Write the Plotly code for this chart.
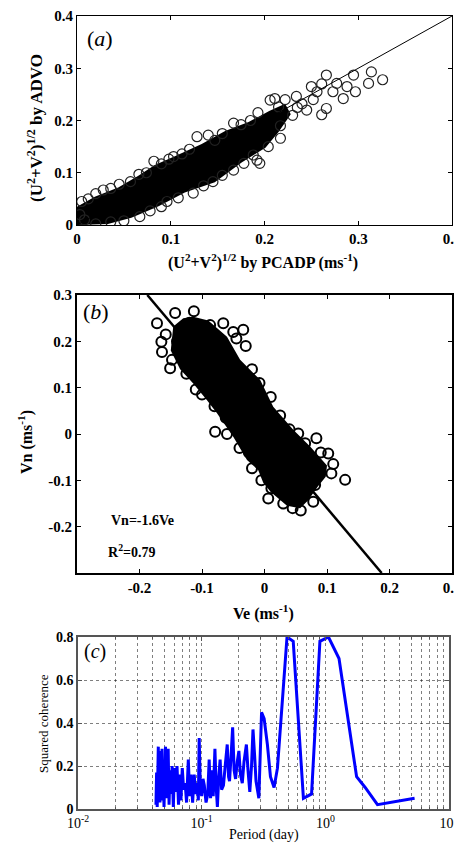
import plotly.graph_objects as go
from plotly.subplots import make_subplots

# ---- panel (a): speed ADVO vs PCADP ----
a_core_x = [0.0, 0.0, 0.019, 0.044, 0.065, 0.083, 0.105, 0.133, 0.158, 0.183, 0.205, 0.222,
            0.228, 0.215, 0.201, 0.176, 0.147, 0.115, 0.087, 0.058, 0.033]
a_core_y = [0.0, 0.035, 0.054, 0.072, 0.094, 0.115, 0.132, 0.155, 0.180, 0.197, 0.218, 0.232,
            0.212, 0.178, 0.148, 0.120, 0.082, 0.062, 0.036, 0.014, 0.002]
a_x = [0.005, 0.012, 0.020, 0.028, 0.036, 0.045, 0.057, 0.066, 0.074, 0.082, 0.090, 0.098,
       0.103, 0.112, 0.120, 0.128, 0.140, 0.147, 0.155, 0.167, 0.175, 0.185, 0.193, 0.206,
       0.211, 0.215, 0.222, 0.234, 0.240, 0.250, 0.256, 0.261, 0.266, 0.273, 0.277, 0.284,
       0.288, 0.295, 0.297, 0.311, 0.314, 0.326, 0.261, 0.266, 0.245, 0.235, 0.252, 0.230,
       0.020, 0.036, 0.050, 0.067, 0.078, 0.090, 0.096, 0.108, 0.124, 0.135, 0.145, 0.155,
       0.167, 0.178, 0.188, 0.195, 0.204, 0.217, 0.192, 0.217, 0.008, 0.003]
a_y = [0.045, 0.050, 0.060, 0.067, 0.070, 0.078, 0.083, 0.097, 0.100, 0.122, 0.117, 0.126,
       0.131, 0.136, 0.145, 0.169, 0.172, 0.162, 0.175, 0.195, 0.192, 0.200, 0.215, 0.239,
       0.242, 0.226, 0.240, 0.246, 0.232, 0.265, 0.255, 0.270, 0.287, 0.255, 0.271, 0.242,
       0.265, 0.287, 0.255, 0.271, 0.293, 0.278, 0.211, 0.223, 0.220, 0.225, 0.240, 0.210,
       0.002, 0.006, 0.008, 0.016, 0.027, 0.035, 0.045, 0.052, 0.061, 0.075, 0.083, 0.095,
       0.105, 0.118, 0.134, 0.118, 0.150, 0.166, 0.124, 0.190, 0.010, 0.020]
one_to_one = [0.0, 0.4]

# ---- panel (b): Vn vs Ve ----
b_core_x = [-0.146, -0.130, -0.114, -0.090, -0.060, -0.039, -0.007, 0.014, 0.046, 0.073, 0.100,
            0.098, 0.085, 0.070, 0.057, 0.036, 0.010, -0.002, -0.010, -0.028, -0.050, -0.076,
            -0.092, -0.114, -0.135, -0.150]
b_core_y = [0.232, 0.250, 0.253, 0.245, 0.210, 0.160, 0.117, 0.059, 0.009, -0.027, -0.068,
            -0.092, -0.114, -0.143, -0.160, -0.155, -0.125, -0.105, -0.078, -0.056, -0.006, 0.045,
            0.073, 0.109, 0.140, 0.180]
b_x = [-0.172, -0.165, -0.164, -0.158, -0.151, -0.148, -0.143, -0.136, -0.140, -0.113, -0.120,
       -0.125, -0.110, -0.100, -0.087, -0.080, -0.079, -0.066, -0.060, -0.062, -0.045, -0.050,
       -0.034, -0.030, -0.020, -0.020, -0.008, -0.025, 0.006, 0.011, 0.010, 0.025, 0.030, 0.040,
       0.054, 0.058, 0.065, 0.078, 0.081, 0.083, 0.090, 0.102, 0.107, 0.110, 0.129, 0.045,
       -0.005, -0.040]
b_y = [0.239, 0.199, 0.177, 0.215, 0.142, 0.160, 0.261, 0.184, 0.200, 0.265, 0.240,
       0.130, 0.096, 0.085, 0.235, 0.060, 0.005, 0.239, 0.000, 0.035, 0.206, 0.220,
       0.225, 0.190, 0.140, -0.074, 0.110, -0.040, -0.139, -0.117, 0.080, 0.040, -0.150, 0.010,
       0.001, -0.165, -0.020, -0.146, -0.110, -0.009, -0.040, -0.042, -0.085, -0.065, -0.099, -0.160,
       -0.100, -0.030]
slope = -1.6
fit_x = [-0.1875, 0.1875]

# ---- panel (c): squared coherence vs period (day) ----
period = [0.0427, 0.0432, 0.0437, 0.0442, 0.0446, 0.0451, 0.0456, 0.0460, 0.0466, 0.0472,
          0.0478, 0.0484, 0.0490, 0.0496, 0.0502, 0.0510, 0.0518, 0.0527, 0.0536, 0.0545,
          0.0555, 0.0565, 0.0577, 0.0590, 0.0603, 0.0617, 0.0632, 0.0650, 0.0665, 0.0680,
          0.0697, 0.0715, 0.0735, 0.0755, 0.0780, 0.0800, 0.0820, 0.0845, 0.0870, 0.0895,
          0.0920, 0.0940, 0.0955, 0.0975, 0.1000, 0.1025, 0.1050, 0.1085, 0.1120, 0.1150,
          0.1180, 0.1210, 0.1240, 0.1280, 0.1310, 0.1340, 0.1375, 0.1410, 0.1450, 0.1500,
          0.1550, 0.1610, 0.1650, 0.1680, 0.1730, 0.1780, 0.1830, 0.1880, 0.1940, 0.2000,
          0.2060, 0.2130, 0.2200, 0.2300, 0.2370, 0.2450, 0.2530, 0.2600, 0.2680, 0.2750,
          0.2900, 0.3050, 0.3200, 0.3400, 0.3600, 0.3850, 0.4100, 0.4900, 0.5500, 0.6650,
          0.7740, 0.9040, 1.06, 1.29, 1.79, 2.10, 2.64, 5.27]
coherence = [0.02, 0.17, 0.01, 0.25, 0.29, 0.08, 0.27, 0.03, 0.20, 0.06,
             0.28, 0.04, 0.15, 0.01, 0.22, 0.29, 0.05, 0.12, 0.28, 0.02,
             0.18, 0.07, 0.20, 0.01, 0.19, 0.08, 0.20, 0.02, 0.16, 0.04,
             0.19, 0.09, 0.12, 0.03, 0.23, 0.06, 0.16, 0.03, 0.16, 0.07,
             0.12, 0.04, 0.33, 0.10, 0.06, 0.14, 0.11, 0.03, 0.07, 0.23,
             0.05, 0.18, 0.06, 0.28, 0.10, 0.01, 0.15, 0.23, 0.09, 0.11,
             0.20, 0.30, 0.15, 0.13, 0.25, 0.38, 0.18, 0.14, 0.22, 0.27,
             0.16, 0.12, 0.22, 0.30, 0.18, 0.08, 0.20, 0.37, 0.25, 0.13,
             0.05, 0.45, 0.42, 0.30, 0.15, 0.10, 0.19, 0.80, 0.78, 0.05,
             0.07, 0.78, 0.80, 0.70, 0.15, 0.10, 0.02, 0.05]

serif = "Liberation Serif"
OFF = 8            # browser body margin around the plot div
W, H = 454, 836    # div fits the page exactly, no scrollbars


def fx(px):
    return (px - OFF) / W


def fy(py):
    return 1 - (py - OFF) / H


fig = make_subplots(rows=3, cols=1)

fig.add_trace(go.Scatter(x=a_core_x, y=a_core_y, fill="toself", fillcolor="black",
                         mode="lines", line=dict(width=0, color="black")), row=1, col=1)
fig.add_trace(go.Scatter(x=a_x, y=a_y, mode="markers",
                         marker=dict(symbol="circle-open", size=10, color="#222",
                                     line=dict(width=1.2, color="#222"))), row=1, col=1)
fig.add_trace(go.Scatter(x=one_to_one, y=one_to_one, mode="lines",
                         line=dict(color="black", width=1)), row=1, col=1)

fig.add_trace(go.Scatter(x=b_core_x, y=b_core_y, fill="toself", fillcolor="black",
                         mode="lines", line=dict(width=0, color="black")), row=2, col=1)
fig.add_trace(go.Scatter(x=b_x, y=b_y, mode="markers",
                         marker=dict(symbol="circle-open", size=10, color="black",
                                     line=dict(width=2, color="black"))), row=2, col=1)
fig.add_trace(go.Scatter(x=fit_x, y=[slope * v for v in fit_x], mode="lines",
                         line=dict(color="black", width=2.5)), row=2, col=1)

fig.add_trace(go.Scatter(x=period, y=coherence, mode="lines",
                         line=dict(color="#0000ff", width=3)), row=3, col=1)

bold_tick = dict(family=serif, size=15, color="black", weight="bold")
ax_common = dict(showline=True, mirror="ticks", ticks="inside", ticklen=4, automargin=False,
                 ticklabeloverflow="allow",
                 linecolor="black", tickcolor="black", showgrid=False, zeroline=False,
                 tickfont=bold_tick)
grid_style = dict(showgrid=True, gridcolor="rgba(0,0,0,0.5)", gridwidth=1, griddash="dot")

fig.update_layout(
    template="none",
    width=W, height=H, showlegend=False,
    paper_bgcolor="white", plot_bgcolor="white",
    margin=dict(l=0, r=0, t=0, b=0, autoexpand=False),
    xaxis=dict(ax_common, domain=[fx(77), fx(452)], range=[0, 0.4],
               tickvals=[0, 0.1, 0.2, 0.3, 0.4], ticktext=["0", "0.1", "0.2", "0.3", "0.4"],
               linewidth=1),
    yaxis=dict(ax_common, domain=[fy(225), fy(16)], range=[0, 0.4],
               tickvals=[0, 0.1, 0.2, 0.3, 0.4], ticktext=["0", "0.1", "0.2", "0.3", "0.4"],
               linewidth=1),
    xaxis2=dict(ax_common, domain=[fx(77), fx(452)], range=[-0.3, 0.3],
                tickvals=[-0.2, -0.1, 0, 0.1, 0.2, 0.3],
                ticktext=["-0.2", "-0.1", "0", "0.1", "0.2", "0.3"], linewidth=2),
    yaxis2=dict(ax_common, domain=[fy(573), fy(295)], range=[-0.3, 0.3],
                tickvals=[-0.2, -0.1, 0, 0.1, 0.2, 0.3],
                ticktext=["-0.2", "-0.1", "0", "0.1", "0.2", "0.3"], linewidth=2),
    xaxis3=dict(grid_style, showline=True, mirror="ticks", ticks="inside", ticklen=4,
                automargin=False, ticklabeloverflow="allow",
                linecolor="#555", tickcolor="#555", linewidth=1.5,
                zeroline=False, type="log", domain=[fx(78), fx(449)], range=[-2, 1],
                tickvals=[0.01, 0.1, 1, 10],
                ticktext=["10<sup>-2</sup>", "10<sup>-1</sup>", "10<sup>0</sup>", "10<sup>1</sup>"],
                tickfont=dict(family=serif, size=14, color="black"),
                minor=dict(grid_style,
                           tickvals=[m * 10 ** e for e in (-2, -1, 0) for m in range(2, 10)],
                           ticks="inside", ticklen=2, tickcolor="#555")),
    yaxis3=dict(grid_style, showline=True, mirror="ticks", ticks="inside", ticklen=4,
                automargin=False, ticklabeloverflow="allow",
                linecolor="#555", tickcolor="#555", linewidth=1.5,
                zeroline=False, domain=[fy(809), fy(637)], range=[0, 0.8],
                tickvals=[0, 0.2, 0.4, 0.6, 0.8], ticktext=["0", "0.2", "0.4", "0.6", "0.8"],
                tickfont=dict(family=serif, size=14, color="black", weight="bold")),
)


def note(text, x, y, size, angle=0, bold=True):
    fig.add_annotation(text=text, x=fx(x), y=fy(y), xref="paper", yref="paper",
                       xanchor="center", yanchor="middle",
                       showarrow=False, textangle=angle,
                       font=dict(family=serif, size=size, color="black",
                                 weight="bold" if bold else "normal"))


# axis titles
note("(U<sup>2</sup>+V<sup>2</sup>)<sup>1/2</sup> by PCADP (ms<sup>-1</sup>)", 263, 262, 16)
note("(U<sup>2</sup>+V<sup>2</sup>)<sup>1/2</sup> by ADVO", 35, 128, 17, angle=-90)
note("Vn (ms<sup>-1</sup>)", 25, 442, 16, angle=-90)
note("Ve (ms<sup>-1</sup>)", 263, 612, 16)
note("Squared coherence", 43, 724, 13, angle=-90, bold=False)
note("Period (day)", 264, 835, 14, bold=False)

# panel labels
note("(<i>a</i>)", 100, 38, 22, bold=False)
note("(<i>b</i>)", 96, 311, 22, bold=False)
note("(<i>c</i>)", 95, 651, 20, bold=False)

# regression text
note("Vn=-1.6Ve", 142, 520, 14)
note("R<sup>2</sup>=0.79", 132, 551, 14)

fig.write_html("out.html")
